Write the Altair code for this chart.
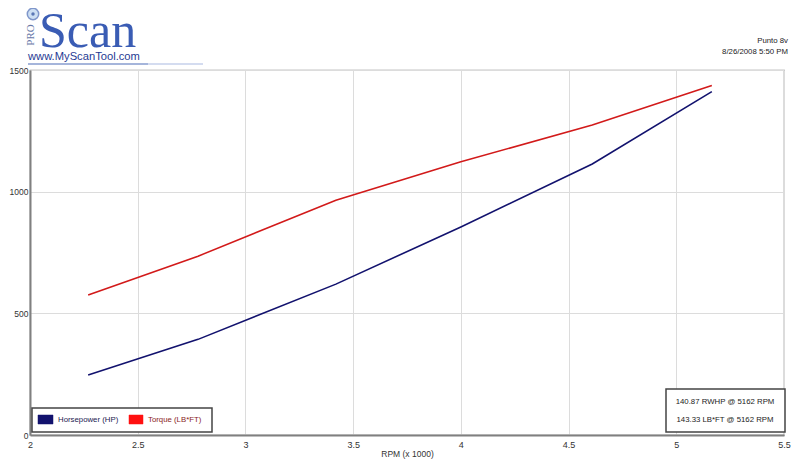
import altair as alt
import pandas as pd

# ---- data ----
rpm = [2.27, 2.78, 3.42, 4.00, 4.61, 5.165]
horsepower = [247, 393, 620, 855, 1114, 1411]
torque = [575, 735, 965, 1123, 1274, 1436]
series_names = ["Horsepower (HP)", "Torque (LB*FT)"]
series_colors = ["#12126e", "#d21a1a"]
x_ticks = [2, 2.5, 3, 3.5, 4, 4.5, 5, 5.5]
y_ticks = [0, 500, 1000, 1500]
stats_lines = ["140.87 RWHP @ 5162 RPM", "143.33 LB*FT @ 5162 RPM"]
header_lines = ["Punto 8v", "8/26/2008 5:50 PM"]
logo_word = "Scan"
logo_prefix = "PRO"
logo_url = "www.MyScanTool.com"
x_title = "RPM (x 1000)"

W, H = 754, 365
FONT = "Liberation Sans"

df = pd.DataFrame({
    "rpm": rpm * 2,
    "value": horsepower + torque,
    "series": [series_names[0]] * len(rpm) + [series_names[1]] * len(rpm),
})
one = pd.DataFrame({"a": [0]})

lines = alt.Chart(df).mark_line(strokeWidth=1.6).encode(
    x=alt.X("rpm:Q", scale=alt.Scale(domain=[2, 5.5], nice=False, zero=False),
            axis=alt.Axis(values=x_ticks, format="~g", title=x_title, grid=True,
                          gridColor="#dcdcdc", domainColor="#808080", domainWidth=2,
                          ticks=False, labelPadding=5, labelFontSize=9, labelColor="#333",
                          labelFont=FONT, titleFont=FONT, titleFontSize=8.5,
                          titleFontWeight="normal", titleColor="#333", titlePadding=0,
                          labelFlush=False)),
    y=alt.Y("value:Q", scale=alt.Scale(domain=[0, 1500], nice=False),
            axis=alt.Axis(values=y_ticks, format="d", title=None, grid=True,
                          gridColor="#dcdcdc", domainColor="#808080", domainWidth=2,
                          ticks=False, labelPadding=2, labelFontSize=8.5, labelColor="#333",
                          labelFont=FONT, labelFlush=False)),
    color=alt.Color("series:N", scale=alt.Scale(domain=series_names, range=series_colors),
                    legend=None),
    detail="series:N",
)

base = alt.Chart(one)

def txt(s, x, y, size=7.8, color="#222", align="left", font=FONT, angle=0, weight="normal", baseline="middle"):
    kw = dict(text=s, fontSize=size, color=color, align=align, font=font,
              baseline=baseline, fontWeight=weight)
    if angle:
        kw["angle"] = angle
    return base.mark_text(**kw).encode(x=alt.value(x), y=alt.value(y))

def box(x, x2, y, y2, fill="white", stroke="#444", sw=1.5):
    return base.mark_rect(fill=fill, stroke=stroke, strokeWidth=sw).encode(
        x=alt.value(x), x2=alt.value(x2), y=alt.value(y), y2=alt.value(y2))

# legend box (bottom-left)
legend = [
    box(2, 182, 338, 362),
    box(8, 23, 345, 354, fill=series_colors[0], stroke=series_colors[0], sw=0.5),
    txt(series_names[0], 28, 350, color="#1a1a50"),
    box(99, 113, 345, 354, fill="#ff1010", stroke="#ff1010", sw=0.5),
    txt(series_names[1], 118, 350, color="#8a1c1c"),
]

# stats box (bottom-right)
stats = [
    box(636, 755, 319, 362),
    txt(stats_lines[0], 695, 332, align="center"),
    txt(stats_lines[1], 695, 350, align="center"),
]

# header text top-right
header = [
    txt(header_lines[0], 758, -29, align="right"),
    txt(header_lines[1], 758, -18, align="right"),
]

# logo
logo = [
    base.mark_point(filled=True, size=130, color="#b8d2ee", stroke="#4a6ab5",
                    strokeWidth=1.5).encode(x=alt.value(3), y=alt.value(-56)),
    base.mark_point(filled=True, size=12, color="#2a4a9a").encode(
        x=alt.value(3), y=alt.value(-56)),
    txt(logo_prefix, 1, -35, size=11, color="#6878a8", align="center",
        font="Liberation Serif", angle=270),
    txt(logo_word, 9, -23, size=50, color="#3a5cb4", font="Liberation Serif",
        baseline="alphabetic"),
    txt(logo_url, -2, -13, size=11.2, color="#1f3a93"),
    base.mark_rule(color="#6a84c4", strokeWidth=1.5, opacity=0.8).encode(
        x=alt.value(-2), x2=alt.value(118), y=alt.value(-6)),
    base.mark_rule(color="#b8c6e6", strokeWidth=1.5, opacity=0.8).encode(
        x=alt.value(118), x2=alt.value(173), y=alt.value(-6)),
]

chart = alt.layer(lines, *legend, *stats, *header, *logo).properties(
    width=W, height=H,
    autosize=alt.AutoSizeParams(type="none"),
    padding={"left": 22, "top": 62, "right": 8, "bottom": 26},
    background="white",
).configure_view(stroke="#8a8a8a", strokeWidth=1.2)

chart.save("out.html", embed_options={"renderer": "svg", "actions": False})
